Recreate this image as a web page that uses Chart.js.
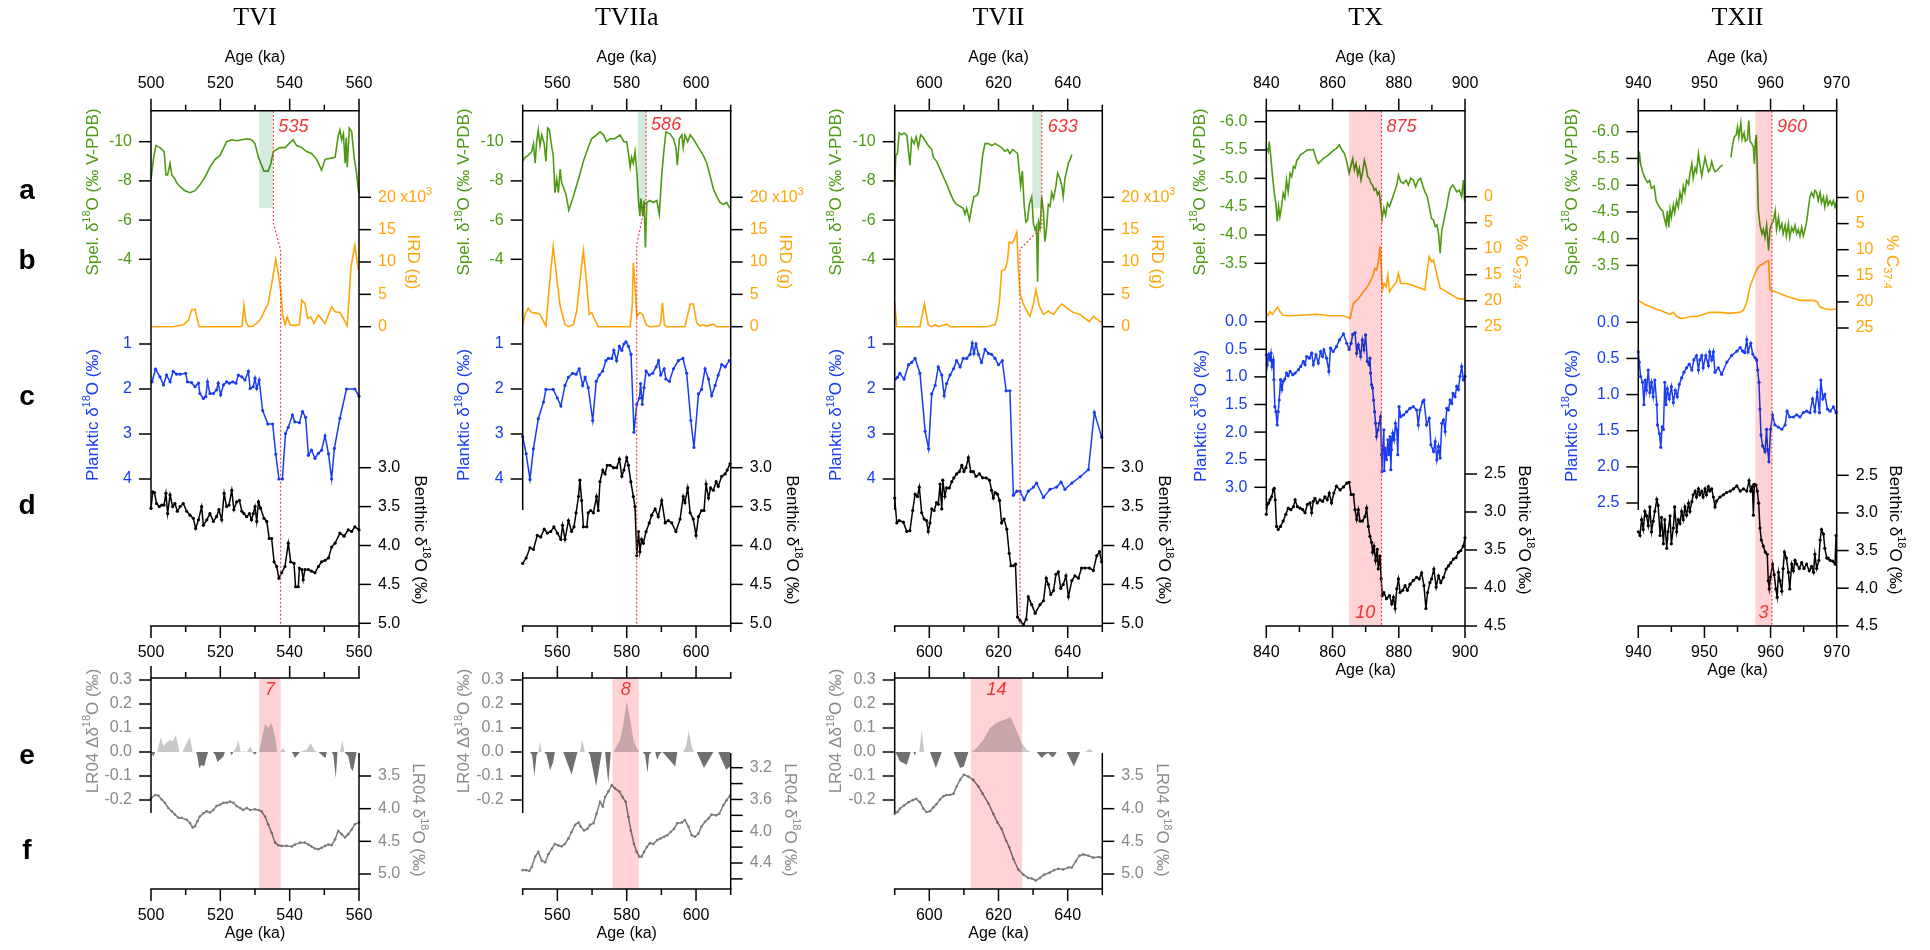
<!DOCTYPE html>
<html>
<head>
<meta charset="utf-8">
<script src="https://cdn.jsdelivr.net/npm/chart.js@4.4.1/dist/chart.umd.min.js"></script>
<style>
  body { margin: 0; background: #fff; }
  #wrap { position: relative; width: 1930px; height: 950px; overflow: hidden; background: #fff; }
  #wrap canvas { position: absolute; left: 0; top: 0; }
  .row { position: absolute; font: bold 28px "Liberation Sans", Arial, sans-serif; transform: translate(-50%, -50%); }
</style>
</head>
<body>
<div id="wrap"></div>
<script>
// ---------------- data (age ka, value) ----------------
const tviSpel = [[500,-8.1],[500.7,-9.1],[501.4,-9.8],[502.6,-9.7],[503.8,-9.5],[504.3,-8.3],[504.8,-8.3],[505.5,-8.9],[506,-8.3],[506.9,-8.1],[507.4,-7.9],[508.4,-7.7],[509.8,-7.5],[511.3,-7.4],[512.7,-7.5],[514.1,-7.8],[515.6,-8.2],[517,-8.7],[518.5,-9.1],[519.9,-9.3],[521,-9.7],[521.8,-10],[523.3,-10.1],[524.7,-10.05],[526.2,-10.1],[527.6,-10.15],[529,-10.1],[530,-9.9],[531,-9.2],[531.9,-8.8],[532.6,-8.5],[533.8,-8.5],[534.6,-8.9],[535.3,-9.5],[536.3,-9.6],[537.2,-9.7],[538.7,-9.7],[540.1,-9.95],[541,-10.1],[542,-9.8],[543.5,-9.7],[544.9,-9.5],[546.3,-9.4],[547.8,-9.1],[549.2,-8.55],[550.2,-9.1],[551.6,-9.15],[553.1,-9.2],[554,-10.3],[554.5,-10.6],[555,-10.1],[555.5,-10.4],[556,-8.9],[556.3,-10.2],[556.6,-8.7],[557.2,-10.7],[557.9,-10.5],[558.6,-9.2],[559.3,-8.4],[560,-7.3]];
const tviIrd = [[500,0],[506.4,0],[509.3,0.3],[510.8,1],[511.7,2.6],[512.7,2.7],[513.2,1.5],[513.9,0],[525.7,0],[526.3,0.1],[526.8,3.3],[527.4,0.8],[528.1,0],[529.5,0.1],[531.4,1],[533.8,3.6],[535,7.2],[536,10.4],[536.7,8.2],[537.5,5.2],[538,1.8],[538.7,0.3],[539.3,1.5],[540.1,0.3],[541,0.2],[542.8,0.3],[543.5,4.1],[544.4,3.6],[545.2,1.3],[546.1,1.5],[547,0.5],[548.3,1.8],[550.2,0.5],[552.1,3.1],[553.1,2.3],[554.5,2.2],[555.5,1.3],[556.6,0.1],[557.7,9.3],[558.8,12.6],[559.8,8.8]];
const tviPlank = [[500.3,1.84],[501.3,1.56],[502.6,1.73],[503.6,1.91],[504.5,1.69],[505.5,1.84],[506.4,1.61],[507.4,1.67],[508.4,1.67],[510,1.65],[510.5,1.84],[511.7,1.86],[512.7,1.95],[513.7,1.87],[514.1,2.1],[515.1,2.21],[515.8,2.17],[516.3,1.84],[517,2.1],[518,2.1],[518.9,2.02],[519.4,1.87],[520.1,2.13],[520.9,1.91],[521.8,1.84],[522.6,1.87],[523.6,1.84],[524.5,1.87],[525.2,1.69],[526.2,1.73],[527.1,1.8],[528.1,1.61],[528.6,1.99],[529.5,1.95],[530,1.76],[530.5,1.99],[531.2,1.8],[532.2,2.48],[533.7,2.78],[535.1,2.78],[536,3.45],[536.9,4.0],[537.9,4.0],[538.8,2.99],[539.6,2.85],[540.8,2.58],[541.5,2.73],[542.8,2.75],[543.7,2.5],[544.6,2.63],[545.4,3.47],[546.3,3.36],[547.3,3.54],[548.3,3.43],[549.2,3.36],[550.2,3.04],[551.2,3.44],[552.1,4.0],[552.9,3.32],[554.5,2.65],[556.4,2.0],[558.8,2.0],[560,2.16]];
const tviBenth = [[500,3.52],[500.5,3.31],[501,3.32],[501.6,3.46],[502.4,3.5],[503.1,3.48],[503.75,3.48],[504.3,3.33],[504.8,3.59],[505.5,3.35],[506.25,3.5],[506.9,3.46],[507.6,3.56],[508.4,3.5],[509.3,3.46],[510.3,3.56],[511.25,3.61],[512.2,3.65],[512.9,3.78],[513.7,3.67],[514.6,3.5],[515.1,3.74],[516.1,3.67],[517,3.59],[518,3.69],[518.9,3.63],[519.6,3.54],[520.4,3.67],[521.1,3.33],[521.8,3.5],[522.5,3.48],[523.3,3.29],[523.9,3.54],[524.7,3.44],[525.5,3.42],[526.2,3.56],[526.8,3.59],[527.6,3.63],[528.4,3.59],[529,3.67],[529.5,3.59],[530,3.5],[530.5,3.69],[531,3.44],[531.6,3.52],[532.6,3.65],[533.4,3.69],[534.1,3.91],[534.8,3.91],[535.5,4.21],[536.25,4.27],[536.9,4.42],[537.7,4.35],[538.65,4.27],[539.6,3.97],[540.3,4.21],[541.25,4.23],[541.7,4.53],[542.5,4.53],[542.8,4.29],[543.5,4.31],[543.9,4.44],[544.4,4.31],[545.4,4.31],[546.3,4.33],[547.3,4.35],[548.3,4.27],[549.2,4.21],[550.2,4.19],[551.2,4.16],[552.1,4.02],[553.1,3.97],[554.5,3.84],[555.7,3.88],[556.9,3.8],[557.9,3.82],[558.8,3.76],[560,3.8]];
const tviTie = [[535.3,0],[535.3,0.218],[537.4,0.27],[537.4,1]];

const tviiaSpel = [[550,-9.0],[550.7,-9.2],[551.6,-9.3],[552.6,-9.5],[553.1,-9.9],[553.6,-8.9],[554,-10.0],[554.5,-10.6],[555,-9.8],[555.5,-10.35],[556.2,-9.9],[556.7,-9.0],[557.2,-10.7],[557.7,-10.6],[558.4,-9.7],[558.8,-9.3],[559.3,-7.4],[559.8,-8.1],[560.3,-7.4],[560.8,-8.6],[561.25,-7.9],[561.9,-7.6],[562.5,-7.3],[563.3,-6.5],[564.6,-7.2],[566.1,-8.1],[567.5,-9.0],[568.9,-9.7],[569.9,-10.15],[571.3,-10.35],[572.3,-10.5],[573.3,-10.35],[574.2,-10.0],[575.2,-10.15],[576.6,-10.15],[578.1,-10.35],[579.2,-10.0],[580,-10.0],[580.5,-9.4],[581,-8.7],[581.4,-9.2],[581.9,-8.9],[582.4,-9.5],[582.9,-8.5],[583.4,-7.0],[583.8,-6.2],[584.1,-7.1],[584.6,-6.2],[585,-7.0],[585.4,-4.6],[585.8,-6.9],[586.7,-7.0],[587.7,-6.9],[588.7,-7.0],[589.4,-6.3],[590.1,-8.3],[590.6,-9.3],[591.3,-10.5],[592.5,-10.4],[593.5,-10.15],[594.2,-9.7],[594.6,-8.8],[595.2,-10.15],[595.9,-10.35],[596.3,-9.7],[596.8,-10.35],[597.6,-10.0],[598.3,-10.35],[599.2,-10.15],[600.7,-9.7],[602.1,-9.3],[603.1,-8.9],[604,-8.3],[605,-7.6],[606,-7.2],[606.9,-6.9],[607.9,-6.8],[608.8,-6.9],[609.8,-6.6]];
const tviiaIrd = [[550,0.3],[550.7,1.9],[551.6,2.9],[552.6,2.2],[554,2.1],[555,1.9],[556.7,0.1],[557.7,6.4],[558.8,12.4],[559.8,7.6],[560.8,3.2],[562.2,0.3],[563.2,0],[564.6,0.3],[565.6,2.5],[566.5,7.0],[567.5,11.8],[568.5,6.4],[569.2,1.9],[569.9,2.2],[570.6,1.3],[571.8,0],[581,0],[581.6,3.2],[581.9,9.9],[582.4,6.4],[582.9,1.6],[583.8,2.2],[584.6,1.9],[585.6,0.3],[586.7,0],[589.4,0.1],[589.8,0.6],[590.3,3.7],[590.9,0.3],[591.5,0],[596.8,0],[598.3,3.5],[599.2,3.5],[600.2,0.6],[601.2,0.1],[601.9,0.3],[603.1,0.1],[605,0.4],[606,0],[609.8,0]];
const tviiaPlank = [[550,3.06],[551,3.44],[552.1,4.01],[553.1,3.33],[554.5,2.66],[556,2.29],[556.7,2.01],[558.8,2.01],[560,2.2],[561,2.38],[562.2,1.92],[563.2,1.74],[564.4,1.65],[565.4,1.67],[566.3,1.55],[567.3,1.92],[568,1.74],[568.9,1.97],[570.2,2.7],[571.2,1.83],[572.1,1.69],[573.1,1.6],[574,1.37],[574.7,1.32],[575.7,1.32],[576.3,1.14],[577.1,1.37],[577.9,1.05],[578.6,1.14],[579.2,1.0],[579.8,0.95],[580.5,1.05],[581.25,1.23],[582.1,2.96],[582.9,2.34],[583.7,2.2],[584,1.88],[584.5,2.34],[585,1.97],[585.6,1.6],[586.5,1.69],[587.5,1.65],[588.5,1.51],[589.2,1.37],[589.8,1.69],[590.8,1.55],[591.3,1.78],[592.3,1.83],[593.5,1.55],[594.9,1.37],[596.2,1.32],[597.3,1.65],[598.5,2.7],[599.4,3.3],[600.7,2.11],[601.6,2.01],[602.6,1.55],[603.6,1.78],[604.5,2.15],[605.5,1.92],[606.4,1.69],[607.4,1.46],[608.4,1.51],[609.6,1.37]];
const tviiaBenth = [[550,4.23],[551,4.16],[552.1,4.03],[553.1,4.05],[554.2,3.87],[555.2,3.89],[556.2,3.79],[557.1,3.84],[558.1,3.82],[559,3.76],[560,3.84],[561,3.92],[561.5,3.74],[562.2,3.92],[563.2,3.68],[564.1,3.82],[564.8,3.76],[565.4,3.58],[566.1,3.37],[566.5,3.16],[567,3.42],[567.5,3.76],[568.5,3.76],[568.9,3.58],[569.6,3.55],[570.4,3.58],[571.3,3.37],[571.8,3.55],[572.3,3.18],[573.1,3.03],[573.75,3.08],[574.4,2.97],[575.2,2.97],[576.2,3.0],[577.1,3.0],[577.9,2.89],[578.6,3.11],[579.2,3.03],[580,2.87],[580.5,2.97],[581.2,3.18],[581.9,3.37],[582.4,3.5],[582.9,4.13],[583.4,3.82],[583.8,4.08],[584.3,3.92],[584.8,3.97],[585.6,3.82],[586.5,3.71],[587.2,3.61],[588.2,3.53],[589.1,3.63],[590.1,3.42],[591.1,3.71],[592,3.68],[593,3.71],[594.2,3.82],[595.4,3.66],[596.3,3.37],[596.8,3.45],[597.6,3.26],[598.3,3.58],[599.2,3.66],[600,3.87],[600.7,3.63],[601.6,3.55],[602.3,3.55],[602.9,3.21],[603.6,3.39],[604.2,3.26],[605,3.29],[605.8,3.18],[606.4,3.24],[607.4,3.11],[608.4,3.08],[609,3.03],[609.8,2.95]];
const tviiaTie = [[585.6,0],[585.6,0.173],[582.9,0.26],[582.9,1]];

const tviiSpel = [[590,-7.65],[590.3,-9.3],[590.8,-9.4],[591.3,-10.45],[592,-10.35],[592.7,-10.45],[593.5,-10.35],[594,-9.5],[594.4,-8.8],[594.9,-10.15],[595.6,-9.9],[596.2,-10.25],[596.8,-9.7],[597.5,-10.35],[598.1,-10.25],[598.8,-10.05],[599.7,-9.8],[600.7,-9.6],[601.2,-9.2],[602.1,-9.0],[603.1,-8.6],[604.1,-8.2],[605,-7.85],[606,-7.4],[607,-7.0],[607.9,-6.8],[608.9,-6.7],[609.8,-6.6],[610.3,-6.3],[610.8,-6.6],[611.6,-6.0],[612.3,-6.7],[612.9,-7.2],[613.7,-7.25],[614.2,-7.4],[614.7,-8.1],[615.4,-9.3],[616.1,-9.9],[617.1,-9.9],[618,-9.8],[619,-9.9],[620,-9.8],[620.9,-9.7],[621.9,-9.5],[622.6,-9.6],[623.3,-9.4],[624.1,-9.6],[624.8,-9.5],[625.5,-9.4],[626,-8.5],[626.4,-7.75],[626.9,-8.5],[627.4,-6.8],[627.9,-5.9],[628.4,-6.0],[628.9,-6.8],[629.6,-7.2],[630.1,-5.8],[630.6,-5.5],[631,-5.7],[631.3,-2.85],[631.6,-5.9],[632,-5.6],[632.5,-7.2],[633,-6.4],[633.4,-4.9],[633.9,-5.6],[634.4,-6.8],[634.9,-6.7],[635.4,-7.4],[635.9,-7.1],[636.6,-7.75],[637.1,-8.4],[637.8,-8.1],[638.3,-7.75],[638.7,-7.2],[639.2,-8.1],[639.7,-8.5],[640.2,-8.9],[640.7,-9.1],[641.2,-9.35]];
const tviiIrd = [[590,3.8],[590.6,0],[591.5,0],[597.3,0],[598.6,3.5],[599.7,0.3],[600.7,0],[601.7,0.3],[602.6,0],[605,0.4],[606,0],[616.6,0],[618,0.2],[619,0.3],[619.7,1.6],[620.3,4.1],[620.9,8.6],[621.9,8.9],[622.6,10.2],[623.1,13.1],[623.8,12.9],[624.5,13.4],[625.3,14.6],[625.7,9.6],[626.2,5.1],[627.2,3.5],[628.1,2.5],[629.1,1.6],[630.1,3.5],[630.8,5.7],[631.8,3.2],[633,1.9],[634.4,2.4],[635.9,1.9],[637.3,2.9],[638.3,3.5],[639.7,2.9],[641.6,2.2],[643.6,1.9],[645,1.3],[646.3,0.8],[647.4,1.6],[648.9,1.0],[649.8,0.6]];
const tviiPlank = [[590.2,1.78],[590.8,1.74],[591.5,1.65],[592.7,1.78],[594,1.46],[594.9,1.41],[595.9,1.32],[597.3,1.65],[598.8,2.94],[599.8,3.33],[600.7,2.11],[601.7,1.92],[602.6,1.51],[603.6,1.69],[604.3,2.15],[605,1.88],[606,1.69],[607,1.55],[607.9,1.37],[608.9,1.51],[609.8,1.32],[610.8,1.32],[611.8,1.23],[612.4,0.98],[612.9,1.21],[613.5,1.0],[614.2,1.23],[615.1,1.41],[616.1,1.12],[617.1,1.21],[618,1.23],[619,1.32],[620,1.46],[621.1,1.37],[622.2,2.04],[623.3,2.04],[624.3,4.36],[625.3,4.27],[626.2,4.27],[627.4,4.46],[628.6,4.27],[630.1,4.18],[631,4.09],[633,4.41],[634.9,4.23],[636.8,4.18],[638.1,4.07],[639.2,4.23],[641.2,4.09],[643.6,3.95],[646,3.79],[647.7,2.52],[649.8,3.07]];
const tviiBenth = [[590,3.39],[590.6,3.71],[591.3,3.68],[592.5,3.7],[593.5,3.82],[594.4,3.81],[595.2,3.55],[595.9,3.34],[596.6,3.37],[597.1,3.25],[597.8,3.58],[598.5,3.66],[599.2,3.68],[599.7,3.82],[600.2,3.71],[600.7,3.53],[601.4,3.55],[602.1,3.45],[602.6,3.47],[603.1,3.21],[603.6,3.53],[603.9,3.16],[604.5,3.37],[605,3.26],[605.8,3.26],[606.5,3.18],[607.1,3.13],[607.9,3.08],[608.7,3.05],[609.4,2.97],[610,3.05],[610.6,3.0],[611.3,2.87],[612,3.05],[612.7,3.05],[613.5,3.11],[614.5,3.08],[615.4,3.13],[616.4,3.13],[617.4,3.16],[618,3.29],[618.5,3.39],[619,3.32],[619.7,3.34],[620.3,3.42],[620.9,3.71],[621.6,3.66],[622.4,3.79],[623.1,4.1],[623.6,4.26],[624.3,4.26],[624.9,4.24],[625.5,4.92],[626.2,4.96],[627.2,5.02],[628,4.95],[628.6,4.66],[629.6,4.76],[630.6,4.87],[632,4.76],[633,4.71],[633.8,4.42],[634.4,4.5],[635.1,4.63],[635.9,4.58],[636.6,4.37],[637.3,4.34],[638,4.55],[638.7,4.5],[639.5,4.39],[640.2,4.66],[641.2,4.45],[642.1,4.39],[643.1,4.42],[644,4.29],[645,4.29],[646.3,4.29],[647.4,4.32],[648.4,4.13],[649.2,4.08],[649.8,4.21]];
const tviiTie = [[632.5,0],[632.5,0.226],[626.2,0.269],[626.2,1]];

const txSpel = [[840,-5.5],[840.1,-5.53],[840.6,-5.47],[840.9,-5.65],[841.3,-5.41],[841.9,-5.03],[842.4,-4.74],[842.9,-4.56],[843.3,-4.24],[843.7,-4.5],[844.1,-4.32],[844.6,-4.5],[845.1,-4.74],[845.6,-4.65],[846.1,-4.97],[846.6,-4.76],[847.2,-5.09],[847.7,-5.03],[848.2,-5.21],[848.7,-5.18],[849.2,-5.32],[849.7,-5.35],[850.2,-5.41],[851,-5.44],[851.7,-5.47],[852.4,-5.5],[853,-5.51],[853.7,-5.5],[854.2,-5.51],[854.7,-5.41],[855.2,-5.32],[855.7,-5.26],[857.2,-5.35],[858.7,-5.41],[860.2,-5.49],[861.2,-5.53],[862.1,-5.59],[862.8,-5.5],[863.6,-5.44],[864.3,-5.29],[865,-5.09],[865.5,-5.21],[866.1,-5.35],[866.6,-5.15],[867.1,-5.26],[867.6,-5.06],[868.1,-5.18],[868.6,-4.97],[869.1,-5.12],[869.6,-5.32],[870.1,-5.21],[870.6,-5.03],[871.1,-5.0],[871.6,-4.91],[872.1,-4.88],[872.6,-4.79],[873.1,-4.82],[873.6,-4.71],[874.1,-4.76],[874.5,-4.56],[875,-4.29],[875.5,-4.47],[876,-4.35],[876.6,-4.56],[877.2,-4.5],[877.9,-4.62],[878.6,-4.74],[879.4,-4.88],[879.9,-5.06],[880.6,-4.94],[881.4,-4.91],[882.2,-4.97],[882.9,-4.88],[883.6,-5.0],[884.4,-4.97],[885.1,-4.85],[885.9,-4.97],[886.6,-5.0],[887.2,-4.88],[887.9,-4.76],[888.6,-4.68],[889.2,-4.5],[889.9,-4.29],[890.5,-4.26],[891,-4.15],[891.5,-4.18],[892,-4.03],[892.5,-3.68],[893,-4.09],[893.5,-4.21],[894,-4.38],[894.5,-4.5],[895,-4.68],[895.5,-4.82],[896.3,-4.88],[897,-4.82],[897.5,-4.76],[898.3,-4.79],[899,-4.68],[899.5,-4.97],[899.9,-4.59]];
const txC374 = [[840,22.4],[840.6,22.8],[841.1,22.1],[841.9,22.6],[842.6,21.9],[843.4,21.2],[844.1,22.1],[845.1,22.8],[847.2,22.9],[850.2,22.8],[855.2,22.6],[859.2,22.9],[863.3,22.9],[865.3,23.4],[866.3,20.5],[867.8,19.6],[869.3,18.3],[870.8,17.0],[872.1,15.4],[872.8,13.8],[873.3,14.1],[873.8,12.8],[874.3,9.6],[874.6,12.2],[875.1,17.9],[875.6,16.7],[876.2,17.3],[876.7,15.1],[877.2,18.3],[878.2,17.3],[879.4,16.3],[879.9,14.7],[880.6,16.7],[882.4,16.7],[885.4,17.3],[887.9,17.9],[888.6,14.1],[889.2,11.5],[889.9,12.5],[890.5,12.2],[891.3,14.4],[892.5,17.6],[894.5,18.3],[896,18.9],[897.3,19.4],[898,19.6],[899,19.7],[900,19.7]];
const txPlank = [[840,0.6],[840.3,0.78],[840.7,0.6],[841.1,0.69],[841.4,0.57],[841.7,0.81],[842.1,0.69],[842.3,1.05],[842.6,1.54],[842.9,1.63],[843.3,1.87],[843.6,1.63],[843.9,1.42],[844.3,1.05],[844.7,1.23],[845.1,1.08],[845.6,1.04],[846.1,0.93],[846.6,0.98],[847.2,0.9],[848,0.96],[848.7,0.93],[849.7,0.87],[850.4,0.81],[851.2,0.72],[851.7,0.78],[852.2,0.63],[853,0.66],[853.7,0.57],[854.2,0.78],[855,0.6],[855.7,0.75],[856.4,0.54],[857,0.63],[857.4,0.51],[858.2,0.66],[858.9,0.9],[859.4,0.48],[860.2,0.54],[861.2,0.45],[862.1,0.33],[863.3,0.22],[864.3,0.39],[865,0.5],[865.6,0.39],[866.1,0.23],[866.8,0.2],[867.3,0.57],[867.8,0.42],[868.5,0.63],[869,0.33],[869.5,0.51],[870,0.24],[870.5,0.72],[871,0.78],[871.3,0.66],[871.5,0.93],[871.8,1.14],[872.1,1.2],[872.4,1.42],[872.7,1.63],[873,1.84],[873.3,2.08],[873.7,1.96],[874.1,1.84],[874.5,1.72],[874.8,2.41],[874.9,2.72],[875.1,2.32],[875.5,1.96],[875.6,2.7],[875.9,2.29],[876.3,2.5],[876.7,2.14],[877,2.41],[877.4,2.08],[877.6,2.68],[877.8,2.32],[878.2,2.02],[878.6,2.14],[879,1.84],[879.4,1.96],[879.7,2.41],[880.1,1.54],[880.6,1.72],[881.4,1.69],[882.4,1.63],[883.4,1.57],[884.4,1.54],[885.4,1.6],[885.9,1.87],[886.4,1.6],[887.2,1.45],[887.6,1.42],[888.4,1.87],[889.2,1.75],[889.7,2.23],[890.5,2.35],[891,2.17],[891.5,2.5],[892,2.26],[892.5,2.47],[893,1.84],[893.5,1.78],[894,1.99],[894.5,1.57],[895,1.6],[895.5,1.42],[896,1.48],[896.4,1.3],[897,1.36],[897.5,1.17],[898,1.23],[898.5,0.99],[899,0.81],[899.5,1.05],[900,0.99]];
const txBenth = [[840,3.03],[840.3,2.9],[840.7,2.88],[841.1,2.84],[841.6,2.8],[842.1,2.71],[842.4,2.69],[842.7,2.84],[843.1,3.19],[843.6,3.23],[844.3,3.19],[845.1,3.12],[845.9,3.03],[846.6,2.95],[847.4,2.97],[848.2,2.93],[848.7,2.84],[849.4,2.93],[850.2,2.95],[851,2.97],[851.7,3.01],[852.4,2.9],[853.2,2.88],[853.7,3.01],[854.2,2.86],[854.7,2.82],[855.4,2.88],[856.2,2.84],[857,2.86],[857.7,2.8],[858.4,2.84],[859,2.75],[859.7,2.88],[860.4,2.75],[861.2,2.66],[862.3,2.71],[863.3,2.67],[864.3,2.62],[865,2.61],[865.6,2.77],[866.3,2.77],[866.8,2.97],[867.3,3.1],[867.8,2.97],[868.3,3.12],[869,3.12],[869.8,3.06],[870.3,2.95],[870.8,3.19],[871.3,3.32],[871.8,3.4],[872.1,3.53],[872.5,3.45],[873,3.64],[873.5,3.49],[873.8,3.75],[874.3,3.58],[874.7,3.88],[875,4.1],[875.5,4.06],[876.3,4.14],[877.2,4.1],[877.9,4.21],[878.4,4.12],[878.9,4.27],[879.4,4.01],[879.9,3.88],[880.4,4.06],[881.2,4.03],[881.9,3.97],[882.6,4.03],[883.4,3.95],[884.4,3.9],[885.4,3.86],[886.2,3.88],[886.9,3.8],[887.6,3.97],[888.2,4.27],[888.7,4.06],[889.4,3.93],[889.9,3.88],[890.6,3.75],[891.3,3.99],[892,3.84],[892.7,3.93],[893.5,3.86],[894.3,3.75],[895,3.71],[895.7,3.67],[896.5,3.62],[897.3,3.6],[898,3.53],[898.7,3.51],[899.5,3.45],[900,3.34]];
const txTie = [[874.8,0],[874.8,1]];

const txiiSpel = [[940,-5.4],[940.15,-5.63],[940.35,-5.4],[940.65,-5.25],[941,-5.13],[941.4,-5.05],[941.7,-5.09],[942,-4.94],[942.4,-4.98],[942.7,-4.71],[943,-4.63],[943.4,-4.55],[943.7,-4.52],[943.9,-4.4],[944.2,-4.25],[944.4,-4.52],[944.6,-4.21],[944.8,-4.55],[945,-4.4],[945.3,-4.63],[945.5,-4.48],[945.8,-4.71],[946.05,-4.59],[946.3,-4.86],[946.55,-4.71],[946.8,-4.98],[947.05,-4.86],[947.3,-5.09],[947.6,-5.02],[947.8,-5.21],[948.1,-5.4],[948.3,-5.13],[948.6,-5.32],[948.8,-5.25],[949.1,-5.59],[949.3,-5.4],[949.6,-5.17],[949.8,-5.32],[950.1,-5.52],[950.3,-5.4],[950.6,-5.25],[950.8,-5.28],[951.1,-5.44],[951.35,-5.32],[951.6,-5.25],[951.95,-5.28],[952.35,-5.34],[952.75,-5.38],[953.4,null],[954,-5.52],[954.3,-5.78],[954.5,-5.9],[954.8,-5.94],[955,-6.09],[955.2,-5.9],[955.5,-6.17],[955.7,-5.86],[956,-5.98],[956.2,-5.82],[956.5,-5.86],[956.7,-6.21],[956.9,-5.82],[957.15,-5.78],[957.4,-5.71],[957.55,-5.4],[957.7,-5.82],[957.85,-5.94],[958,-5.25],[958.15,-4.55],[958.4,-4.25],[958.7,-4.09],[958.9,-4.17],[959.15,-4.02],[959.4,-4.25],[959.7,-3.78],[959.9,-4.17],[960.2,-4.28],[960.4,-4.32],[960.7,-4.52],[960.9,-4.17],[961.2,-4.4],[961.4,-4.17],[961.7,-4.28],[961.9,-4.09],[962.2,-4.25],[962.4,-4.05],[962.7,-4.28],[962.9,-4.02],[963.2,-4.21],[963.45,-4.13],[963.7,-4.25],[963.95,-4.09],[964.2,-4.17],[964.45,-4.05],[964.7,-4.21],[964.95,-4.05],[965.2,-4.17],[965.45,-4.32],[965.7,-4.55],[965.95,-4.78],[966.2,-4.86],[966.5,-4.78],[966.7,-4.9],[966.98,-4.86],[967.2,-4.71],[967.5,-4.86],[967.7,-4.67],[968,-4.78],[968.2,-4.59],[968.5,-4.78],[968.7,-4.63],[969,-4.71],[969.25,-4.63],[969.5,-4.71],[969.75,-4.59],[970,-4.71]];
const txiiC374 = [[940,19.7],[940.5,20.1],[941,20.5],[941.8,20.9],[942.5,21.3],[943.3,21.6],[944,22.0],[944.8,22.4],[945.3,22.0],[945.8,22.8],[946.55,23.2],[947.3,23.0],[948.1,22.8],[948.8,22.8],[949.8,22.4],[950.8,22.0],[952.35,22.0],[953.9,22.2],[955.4,22.0],[955.9,21.6],[956.4,20.1],[956.9,17.0],[957.4,15.4],[957.9,13.8],[958.4,13.0],[958.9,12.7],[959.3,12.3],[959.7,12.1],[959.9,17.6],[960.4,17.9],[961.4,18.4],[962.4,18.9],[963.45,19.3],[964.45,19.7],[965.5,19.7],[966.5,19.7],[967,19.9],[967.5,21.0],[968.2,21.3],[969,21.5],[970,21.3]];
const txiiPlank = [[940,0.41],[940.15,0.55],[940.35,0.75],[940.65,0.83],[940.85,1.14],[941.05,0.8],[941.25,0.94],[941.5,0.66],[941.75,0.97],[942,0.83],[942.25,1.03],[942.5,0.8],[942.8,1.14],[942.9,1.42],[943.2,1.54],[943.4,1.73],[943.6,1.45],[943.8,1.48],[944,0.83],[944.2,1.14],[944.4,0.92],[944.7,1.06],[945,0.89],[945.3,1.11],[945.6,0.94],[945.9,1.03],[946.2,0.86],[946.55,0.77],[946.9,0.69],[947.3,0.63],[947.7,0.58],[948.1,0.66],[948.4,0.52],[948.8,0.46],[949.1,0.66],[949.3,0.52],[949.6,0.46],[949.8,0.63],[950.2,0.46],[950.6,0.6],[950.8,0.41],[951.1,0.52],[951.35,0.41],[951.6,0.69],[952.1,0.63],[952.6,0.72],[953.4,0.55],[954.1,0.46],[954.9,0.4],[955.4,0.35],[955.8,0.4],[956.1,0.42],[956.4,0.24],[956.6,0.41],[957,0.29],[957.3,0.44],[957.65,0.49],[957.9,0.52],[958.05,0.66],[958.25,0.83],[958.4,1.2],[958.55,1.56],[958.8,1.71],[959.15,1.79],[959.4,1.48],[959.55,1.76],[959.75,1.93],[960,1.48],[960.3,1.28],[960.65,1.42],[961.15,1.45],[961.7,1.48],[962.2,1.42],[962.5,1.23],[962.9,1.31],[963.45,1.31],[963.95,1.28],[964.45,1.31],[964.95,1.25],[965.45,1.23],[965.95,1.25],[966.35,1.06],[966.7,1.23],[967.05,0.97],[967.4,1.25],[967.6,0.8],[967.9,1.06],[968.2,1.0],[968.6,1.2],[969,1.23],[969.5,1.17],[969.9,1.25]];
const txiiBenth = [[940,3.25],[940.25,3.3],[940.5,3.09],[940.75,3.22],[941,2.98],[941.25,3.04],[941.5,3.17],[941.75,2.92],[942,3.25],[942.25,3.11],[942.5,2.98],[942.8,2.82],[943,2.9],[943.3,3.3],[943.5,3.06],[943.8,3.41],[944,3.09],[944.3,3.47],[944.5,3.25],[944.8,3.04],[945,3.41],[945.3,3.2],[945.5,2.92],[945.8,3.25],[946.05,3.09],[946.3,3.14],[946.55,2.98],[946.8,3.09],[947.05,2.92],[947.3,3.03],[947.6,2.87],[947.8,2.98],[948.1,2.85],[948.3,2.76],[948.6,2.71],[948.8,2.79],[949.1,2.68],[949.3,2.76],[949.6,2.71],[949.8,2.79],[950.1,2.68],[950.3,2.76],[950.6,2.65],[950.8,2.71],[951.1,2.68],[951.35,2.79],[951.6,2.92],[951.85,2.84],[952.35,2.79],[952.85,2.76],[953.35,2.73],[953.9,2.71],[954.4,2.68],[954.9,2.64],[955.4,2.71],[955.9,2.68],[956.4,2.71],[956.75,2.57],[957,2.71],[957.25,2.65],[957.4,3.03],[957.55,2.62],[957.8,2.63],[958,2.71],[958.2,2.87],[958.4,3.2],[958.6,3.36],[958.9,3.44],[959.2,3.52],[959.5,3.55],[959.65,3.9],[959.8,4.01],[960,3.85],[960.3,3.68],[960.55,3.82],[960.8,4.01],[961,4.12],[961.2,3.79],[961.4,3.9],[961.7,4.04],[961.9,3.74],[962.1,3.52],[962.4,3.6],[962.7,3.79],[962.9,4.01],[963.2,3.68],[963.45,3.77],[963.7,3.63],[963.95,3.68],[964.35,3.74],[964.7,3.66],[965.05,3.74],[965.45,3.68],[965.85,3.77],[966.2,3.71],[966.5,3.79],[966.7,3.55],[966.98,3.74],[967.3,3.63],[967.5,3.36],[967.7,3.22],[968,3.28],[968.2,3.47],[968.5,3.6],[968.7,3.6],[969,3.63],[969.4,3.64],[969.75,3.68],[969.9,3.3]];
const txiiTie = [[960.2,0],[960.2,1]];

// LR04 panels (e: anomaly, f: stack)
const tviDelta = [[500,0],[500.7,-0.02],[501.2,0],[501.8,0],[502.8,0.06],[503.6,0.024],[504.5,0.04],[505.5,0.05],[506.25,0.045],[507.2,0.07],[508.2,0],[509.1,0],[510.3,0.038],[511.25,0.063],[512,0],[513,0],[513.4,-0.02],[513.9,-0.067],[514.6,-0.053],[515.3,-0.06],[516.1,-0.018],[516.5,0],[517.8,0],[518.5,-0.011],[519.2,-0.042],[519.9,-0.032],[520.9,-0.018],[521.3,0],[522.8,0],[523.3,-0.015],[523.75,0],[524.7,0.024],[525.2,0.049],[525.9,0],[526.8,0.003],[527.6,0],[528.4,0.017],[528.8,0.021],[529.3,0],[530,-0.011],[530.5,0],[531.2,0],[531.9,0.051],[532.9,0.118],[533.8,0.1],[534.8,0.121],[535.8,0.065],[536.4,0],[537.2,0],[538.2,0.017],[538.8,0],[540.6,0],[541.1,-0.011],[541.5,-0.025],[542.3,-0.011],[543,0],[544.9,0.01],[546.1,0.038],[547.3,0.003],[548.3,0],[549.7,-0.018],[550.4,-0.025],[550.7,0],[552.1,0],[552.6,-0.011],[553.3,-0.108],[553.8,0],[554.5,0],[555.2,0.049],[555.8,0],[556.9,-0.018],[557.6,-0.067],[558.2,-0.08],[558.8,-0.04],[559.3,0],[560,0]];
const tviLr04 = [[500,3.84],[501.2,3.79],[502.1,3.8],[503.1,3.86],[504,3.91],[505,3.99],[506,4.04],[506.9,4.09],[507.9,4.14],[508.8,4.14],[510.3,4.17],[511.25,4.22],[512,4.29],[512.7,4.27],[513.4,4.19],[514.1,4.12],[515.1,4.07],[516.1,4.04],[517,4.06],[518,4.02],[518.9,3.96],[519.9,3.94],[520.9,3.91],[521.8,3.91],[522.8,3.89],[523.75,3.91],[524.7,3.96],[525.7,3.99],[526.6,4.02],[527.6,3.99],[528.6,4.02],[530,4.01],[531,4.02],[531.9,4.04],[532.9,4.12],[533.8,4.24],[534.8,4.37],[535.8,4.52],[536.7,4.56],[537.7,4.57],[539.1,4.57],[540.6,4.58],[541.5,4.55],[543,4.52],[544.4,4.52],[545.4,4.55],[546.3,4.58],[547.3,4.61],[548.3,4.62],[549.2,4.6],[550.2,4.57],[551.2,4.55],[552.1,4.56],[553.1,4.47],[554,4.34],[555,4.39],[555.96,4.44],[556.9,4.39],[557.9,4.32],[558.8,4.24],[560,4.21]];
const tviiaDelta = [[550,0],[552.1,0],[552.7,-0.011],[553.4,-0.1],[554,-0.011],[554.5,0],[555,0.044],[555.5,0],[556.2,0],[556.9,-0.011],[557.9,-0.076],[558.7,-0.046],[559.3,0],[561.7,0],[564.1,-0.094],[565.8,0],[566.5,0],[567.2,0.049],[567.9,0],[568.9,0],[569.4,-0.011],[571.2,-0.143],[572.8,0],[573.75,0],[574.7,-0.13],[575.4,0],[576.2,0],[577.1,0.024],[578.1,0.05],[579,0.114],[580,0.21],[581,0.135],[581.9,0.052],[582.9,0.017],[583.6,0],[584.6,0],[585.3,-0.011],[586,-0.088],[586.5,-0.011],[587.2,0],[588.2,0],[588.8,-0.032],[589.4,-0.011],[590.1,0],[590.6,-0.004],[594,-0.06],[594.6,0],[596.3,0],[597.1,0.024],[597.9,0.09],[598.75,0.024],[599.4,0],[600.2,0],[602.3,-0.067],[605,0],[606.4,0],[608.7,-0.074],[609.8,-0.06]];
const tviiaLr04 = [[550,4.49],[551,4.49],[551.9,4.5],[552.6,4.45],[553.6,4.32],[554.5,4.26],[555.5,4.37],[556.5,4.39],[557.4,4.29],[558.4,4.22],[559.3,4.16],[560.3,4.18],[561.25,4.19],[562.2,4.16],[563.2,4.09],[564.1,4.01],[565.1,3.92],[566.1,3.89],[566.7,3.94],[567.7,3.99],[568.65,3.97],[569.4,3.92],[570.4,3.9],[571.3,3.78],[572.3,3.63],[573.1,3.69],[573.75,3.57],[574.7,3.5],[575.7,3.42],[576.6,3.46],[577.9,3.5],[578.8,3.57],[579.7,3.63],[580.5,3.82],[581.2,3.99],[582.1,4.16],[582.9,4.26],[583.65,4.32],[584.3,4.32],[585,4.26],[585.8,4.2],[586.7,4.15],[587.7,4.16],[588.8,4.11],[589.8,4.09],[590.8,4.07],[591.7,4.05],[592.7,4.01],[593.65,3.97],[594.6,3.9],[595.9,3.89],[596.8,3.86],[597.8,3.94],[598.75,4.05],[599.7,4.07],[600.7,4.03],[601.6,3.94],[602.6,3.88],[603.6,3.84],[604.5,3.79],[605.8,3.8],[606.7,3.78],[607.9,3.67],[608.8,3.61],[609.8,3.55]];
const tviiDelta = [[590,0],[590.6,-0.011],[591.5,-0.039],[593.5,-0.053],[594.6,0],[595.4,0],[595.8,-0.015],[596.2,0],[597.1,0],[597.8,0.09],[598.5,0],[600.2,0],[601.9,-0.067],[603.6,0],[607,0],[608.9,-0.067],[610,-0.06],[611.3,0],[612.3,0],[613.7,0.017],[615.6,0.05],[617.5,0.1],[619,0.118],[620.4,0.128],[621.9,0.135],[623.5,0.146],[625.3,0.086],[626.7,0.038],[628.1,0.01],[629.3,0],[631,0],[632.5,-0.025],[633.4,-0.011],[634.4,-0.004],[635.4,-0.021],[636.1,-0.018],[636.8,0],[639.7,0],[641.8,-0.06],[643.6,0],[645,0],[646.3,0.012],[647.4,0],[649.8,0]];
const tviiLr04 = [[590,4.08],[590.8,4.05],[591.5,4.0],[592.7,3.95],[594,3.9],[595.2,3.87],[596.2,3.85],[597.3,3.9],[598.3,4.0],[599.2,4.05],[600.2,4.04],[601.2,3.98],[602.1,3.93],[603.1,3.86],[604.1,3.81],[605,3.79],[606,3.79],[607,3.77],[607.9,3.66],[608.9,3.56],[610,3.48],[611.3,3.51],[612.7,3.56],[614.2,3.66],[615.4,3.77],[617.1,3.92],[618.5,4.08],[619.7,4.21],[620.9,4.31],[622.2,4.49],[623.1,4.59],[624.3,4.77],[625.7,4.93],[627.2,5.01],[628.6,5.06],[629.6,5.07],[630.8,5.1],[632,5.06],[633.2,5.01],[634.7,4.98],[636.1,4.94],[637.3,4.92],[638.7,4.93],[640.2,4.9],[641.2,4.9],[642.4,4.8],[643.4,4.72],[644.5,4.7],[646,4.72],[647.4,4.75],[648.9,4.74],[649.8,4.75]];

// ---------------- tick labels ----------------
const spelTicksA = [-10, -8, -6, -4];
const irdTicks = [20, 15, 10, 5, 0];
const plankTicksA = [1, 2, 3, 4];
const benthTicksA = [3.0, 3.5, 4.0, 4.5, 5.0];
const spelTicksB = [-6.0, -5.5, -5.0, -4.5, -4.0, -3.5];
const c374Ticks = [0, 5, 10, 15, 20, 25];
const plankTicksTX = [0.0, 0.5, 1.0, 1.5, 2.0, 2.5, 3.0];
const plankTicksTXII = [0.0, 0.5, 1.0, 1.5, 2.0, 2.5];
const benthTicksB = [2.5, 3.0, 3.5, 4.0, 4.5];
const deltaTicks = [0.3, 0.2, 0.1, 0.0, -0.1, -0.2];
const lr04TicksA = [3.5, 4.0, 4.5, 5.0];
const lr04TicksB = [3.2, 3.6, 4.0, 4.4];
const lr04MinorB = [3.4, 3.8, 4.2, 4.6];
const ageTVI = [500, 520, 540, 560], ageTVIMinor = [510, 530, 550];
const ageTVIIa = [560, 580, 600], ageTVIIaMinor = [550, 570, 590, 610];
const ageTVII = [600, 620, 640], ageTVIIMinor = [590, 610, 630, 650];
const ageTX = [840, 860, 880, 900], ageTXMinor = [850, 870, 890];
const ageTXII = [940, 950, 960, 970], ageTXIIMinor = [945, 955, 965];
const rowLetters = ['a', 'b', 'c', 'd', 'e', 'f'];

// ---------------- styles ----------------
const SANS = '"Liberation Sans", Arial, Helvetica, sans-serif';
const SERIF = '"Liberation Serif", "Times New Roman", serif';
const GREEN = '#4f9a14', ORANGE = '#ffa50a', BLUE = '#1a3cf0', BLACK = '#000000';
const GREY = '#8a8a8a', GREYLINE = '#7a7a7a', RED = '#ee3535';
const MINT = '#d3ebdd', PINK = '#ffd2d6';
const TOP = 110.7, BOT = 626, EFT = 678, EFB = 889;

Chart.defaults.font.family = SANS;
const wrap = document.getElementById('wrap');
const pts = a => a.map(([x, y]) => ({x, y}));

function fit(v1, p1, v2, p2, top, bottom) {
  const k = (p2 - p1) / (v2 - v1);
  const vt = v1 + (top - p1) / k, vb = v1 + (bottom - p1) / k;
  return k > 0 ? {min: vt, max: vb, reverse: true} : {min: vb, max: vt, reverse: false};
}

function parseRich(s) {
  return s.split(/(\^\{[^}]*\}|_\{[^}]*\})/).filter(Boolean).map(p =>
    p.startsWith('^{') ? {t: p.slice(2, -1), sup: true} :
    p.startsWith('_{') ? {t: p.slice(2, -1), sub: true} : {t: p});
}
function drawRich(ctx, str, x, y, o) {
  const size = o.size || 16, segs = parseRich(str);
  ctx.save();
  ctx.translate(x, y);
  if (o.rot) ctx.rotate(o.rot);
  ctx.fillStyle = o.color || '#000';
  ctx.textBaseline = 'middle';
  ctx.textAlign = 'left';
  const st = o.italic ? 'italic ' : '';
  const fonts = segs.map(s => st + ((s.sup || s.sub) ? Math.round(size * 0.66) : size) + 'px ' + (o.family || SANS));
  const w = segs.map((s, i) => { ctx.font = fonts[i]; return ctx.measureText(s.t).width; });
  const total = w.reduce((a, b) => a + b, 0);
  let cx = o.align === 'left' ? 0 : o.align === 'right' ? -total : -total / 2;
  segs.forEach((s, i) => {
    ctx.font = fonts[i];
    ctx.fillText(s.t, cx, s.sup ? -size * 0.36 : s.sub ? size * 0.32 : 0);
    cx += w[i];
  });
  ctx.restore();
}

const panelCfg = new Map();
const framePlugin = {
  id: 'frame',
  afterDatasetsDraw(chart) {
    const c = panelCfg.get(chart.canvas), {ctx, chartArea: ca, scales} = chart;
    (c.bands || []).forEach(b => {
      const x1 = scales.x.getPixelForValue(b.from), x2 = scales.x.getPixelForValue(b.to);
      const y2 = scales.f.getPixelForValue(b.depth);
      ctx.save();
      ctx.globalCompositeOperation = 'multiply';
      ctx.fillStyle = b.color;
      ctx.fillRect(x1, ca.top, x2 - x1, y2 - ca.top);
      ctx.restore();
    });
  },
  afterDraw(chart) {
    const c = panelCfg.get(chart.canvas), {ctx, chartArea: ca, scales} = chart, xs = scales.x;
    const mid = (ca.left + ca.right) / 2;
    ctx.save();
    ctx.strokeStyle = '#000';
    ctx.lineWidth = 1.5;
    const seg = (x1, y1, x2, y2) => { ctx.beginPath(); ctx.moveTo(x1, y1); ctx.lineTo(x2, y2); ctx.stroke(); };
    seg(ca.left - 0.75, ca.top, ca.right + 0.75, ca.top);
    seg(ca.left - 0.75, ca.bottom, ca.right + 0.75, ca.bottom);
    seg(ca.left, c.leftSpan[0], ca.left, c.leftSpan[1]);
    seg(ca.right, c.rightSpan[0], ca.right, c.rightSpan[1]);
    const xt = (vals, len) => vals.forEach(v => {
      const px = xs.getPixelForValue(v);
      seg(px, ca.top, px, ca.top - len);
      seg(px, ca.bottom, px, ca.bottom + len);
    });
    xt(c.xMajor, 12);
    xt(c.xMinor, 6);
    c.xMajor.forEach(v => {
      const px = xs.getPixelForValue(v);
      if (c.topLabels) drawRich(ctx, String(v), px, ca.top - 27, {size: 16});
      if (c.bottomLabels) drawRich(ctx, String(v), px, ca.bottom + 26.5, {size: 16});
    });
    if (c.title) drawRich(ctx, c.title, mid, 18, {size: 26, family: SERIF});
    if (c.topTitle) drawRich(ctx, 'Age (ka)', mid, ca.top - 53, {size: 16});
    if (c.bottomTitle) drawRich(ctx, 'Age (ka)', mid, ca.bottom + 44.5, {size: 16});

    c.axes.forEach(a => {
      const s = scales[a.id], left = a.side === 'left', x0 = left ? ca.left : ca.right, dir = left ? -1 : 1;
      (a.minor || []).forEach(v => { const py = s.getPixelForValue(v); seg(x0, py, x0 + dir * 12, py); });
      a.ticks.forEach((v, i) => {
        const py = s.getPixelForValue(v);
        seg(x0, py, x0 + dir * 12, py);
        let lab = v.toFixed(a.dec);
        if (i === 0 && a.suffix) lab += a.suffix;
        drawRich(ctx, lab, x0 + dir * 19, py, {size: 16, color: a.color, align: left ? 'right' : 'left'});
      });
      drawRich(ctx, a.title, a.tx, a.ty, {size: 17, color: a.color, rot: left ? -Math.PI / 2 : Math.PI / 2});
    });
    (c.notes || []).forEach(n => {
      const px = xs.getPixelForValue(n.at) + (n.dx || 0);
      drawRich(ctx, n.text, px, n.y, {size: 18, color: RED, italic: true, align: n.align || 'center'});
    });
    ctx.restore();
  }
};

const line = (d, id, c) => ({data: pts(d), yAxisID: id, borderColor: c, borderWidth: 1.6, pointRadius: 0, fill: false, clip: 6});
const dots = (d, id, c, r) => ({data: pts(d), yAxisID: id, borderColor: c, backgroundColor: c, borderWidth: 1.5,
  pointRadius: r || 1.6, pointBorderWidth: 0, pointBackgroundColor: c, fill: false, clip: 6});
const tie = d => ({data: pts(d), yAxisID: 'f', borderColor: RED, borderWidth: 1.1, borderDash: [2, 2], pointRadius: 0, fill: false});
const delta = d => ({data: pts(d), yAxisID: 'e', borderWidth: 0, borderColor: 'rgba(0,0,0,0)', pointRadius: 0,
  fill: {target: {value: 0}, above: '#c8c8c8', below: '#707070'}});

function makePanel(c) {
  const cv = document.createElement('canvas');
  cv.width = 1930; cv.height = 950;
  wrap.appendChild(cv);
  panelCfg.set(cv, c);
  const scales = {
    x: {type: 'linear', axis: 'x', position: 'bottom', display: false, bounds: 'data', min: c.x[0], max: c.x[1]},
    f: {type: 'linear', axis: 'y', position: 'left', display: false, bounds: 'data', min: 0, max: 1, reverse: true}
  };
  c.axes.forEach(a => {
    scales[a.id] = Object.assign({type: 'linear', axis: 'y', position: a.side, display: false, bounds: 'data'},
      fit(a.ticks[0], a.p[0], a.ticks[a.ticks.length - 1], a.p[1], c.top, c.bottom));
  });
  new Chart(cv, {
    type: 'line',
    data: {datasets: c.datasets},
    options: {
      responsive: false, animation: false, events: [],
      layout: {padding: {left: c.L, right: 1930 - c.R, top: c.top, bottom: 950 - c.bottom}},
      scales,
      plugins: {legend: {display: false}, tooltip: {enabled: false}}
    },
    plugins: [framePlugin]
  });
}

function topAxesA(L, R) {
  return [
    {id: 'g', side: 'left', ticks: spelTicksA, p: [141.7, 259.3], dec: 0, color: GREEN, title: 'Spel. δ^{18}O (‰ V-PDB)', tx: L - 58, ty: 192},
    {id: 'o', side: 'right', ticks: irdTicks, p: [197.3, 326.7], dec: 0, color: ORANGE, suffix: ' x10^{3}', title: 'IRD (g)', tx: R + 54, ty: 262},
    {id: 'b', side: 'left', ticks: plankTicksA, p: [344, 479], dec: 0, color: BLUE, title: 'Planktic δ^{18}O (‰)', tx: L - 58, ty: 415},
    {id: 'k', side: 'right', ticks: benthTicksA, p: [467.7, 623.3], dec: 1, color: BLACK, title: 'Benthic δ^{18}O (‰)', tx: R + 61, ty: 540}
  ];
}
function efAxes(L, R, rTicks, rP, rMinor) {
  return [
    {id: 'e', side: 'left', ticks: deltaTicks, p: [680, 800], dec: 1, color: GREY, title: 'LR04 Δδ^{18}O (‰)', tx: L - 58, ty: 731},
    {id: 'lr', side: 'right', ticks: rTicks, p: rP, minor: rMinor, dec: 1, color: GREY, title: 'LR04 δ^{18}O (‰)', tx: R + 59, ty: 820}
  ];
}
const topCommon = {top: TOP, bottom: BOT, topLabels: true, topTitle: true, bottomLabels: true, leftSpan: [TOP, 510], rightSpan: [TOP, BOT]};
const efCommon = {top: EFT, bottom: EFB, topLabels: false, topTitle: false, bottomLabels: true, bottomTitle: true, leftSpan: [EFT, 813], rightSpan: [753, EFB]};

// ---- TVI ----
makePanel(Object.assign({}, topCommon, {
  L: 151, R: 359, x: [500, 560], xMajor: ageTVI, xMinor: ageTVIMinor, title: 'TVI',
  axes: topAxesA(151, 359),
  datasets: [tie(tviTie), line(tviSpel, 'g', GREEN), line(tviIrd, 'o', ORANGE), dots(tviPlank, 'b', BLUE), dots(tviBenth, 'k', BLACK)],
  bands: [{from: 531.2, to: 535.1, depth: 0.189, color: MINT}],
  notes: [{text: '535', at: 535.3, dx: 5, y: 127, align: 'left'}]
}));
makePanel(Object.assign({}, efCommon, {
  L: 151, R: 359, x: [500, 560], xMajor: ageTVI, xMinor: ageTVIMinor,
  axes: efAxes(151, 359, lr04TicksA, [776, 874]),
  datasets: [dots(tviLr04, 'lr', GREYLINE, 1.3), delta(tviDelta)],
  bands: [{from: 531.2, to: 537.4, depth: 1, color: PINK}],
  notes: [{text: '7', at: 534.3, y: 690}]
}));

// ---- TVIIa ----
makePanel(Object.assign({}, topCommon, {
  L: 522.7, R: 730.7, x: [550, 610], xMajor: ageTVIIa, xMinor: ageTVIIaMinor, title: 'TVIIa',
  axes: topAxesA(522.7, 730.7),
  datasets: [tie(tviiaTie), line(tviiaSpel, 'g', GREEN), line(tviiaIrd, 'o', ORANGE), dots(tviiaPlank, 'b', BLUE), dots(tviiaBenth, 'k', BLACK)],
  bands: [{from: 583.2, to: 585.6, depth: 0.189, color: MINT}],
  notes: [{text: '586', at: 585.6, dx: 5, y: 125, align: 'left'}]
}));
makePanel(Object.assign({}, efCommon, {
  L: 522.7, R: 730.7, x: [550, 610], xMajor: ageTVIIa, xMinor: ageTVIIaMinor,
  axes: efAxes(522.7, 730.7, lr04TicksB, [767.7, 863], lr04MinorB),
  datasets: [dots(tviiaLr04, 'lr', GREYLINE, 1.3), delta(tviiaDelta)],
  bands: [{from: 575.9, to: 583.5, depth: 1, color: PINK}],
  notes: [{text: '8', at: 579.7, y: 690}]
}));

// ---- TVII ----
makePanel(Object.assign({}, topCommon, {
  L: 894.7, R: 1102.3, x: [590, 650], xMajor: ageTVII, xMinor: ageTVIIMinor, title: 'TVII',
  axes: topAxesA(894.7, 1102.3),
  datasets: [tie(tviiTie), line(tviiSpel, 'g', GREEN), line(tviiIrd, 'o', ORANGE), dots(tviiPlank, 'b', BLUE), dots(tviiBenth, 'k', BLACK)],
  bands: [{from: 629.8, to: 632.4, depth: 0.189, color: MINT}],
  notes: [{text: '633', at: 632.5, dx: 6, y: 127, align: 'left'}]
}));
makePanel(Object.assign({}, efCommon, {
  L: 894.7, R: 1102.3, x: [590, 650], xMajor: ageTVII, xMinor: ageTVIIMinor,
  axes: efAxes(894.7, 1102.3, lr04TicksA, [776, 874]),
  datasets: [dots(tviiLr04, 'lr', GREYLINE, 1.3), delta(tviiDelta)],
  bands: [{from: 612.0, to: 626.8, depth: 1, color: PINK}],
  notes: [{text: '14', at: 619.4, y: 690}]
}));

// ---- TX ----
makePanel(Object.assign({}, topCommon, {
  L: 1266.3, R: 1465, x: [840, 900], xMajor: ageTX, xMinor: ageTXMinor, title: 'TX', bottomTitle: true,
  axes: [
    {id: 'g', side: 'left', ticks: spelTicksB, p: [121.7, 263.3], dec: 1, color: GREEN, title: 'Spel. δ^{18}O (‰ V-PDB)', tx: 1200, ty: 192},
    {id: 'o', side: 'right', ticks: c374Ticks, p: [196.7, 326.7], dec: 0, color: ORANGE, title: '% C_{37:4}', tx: 1521, ty: 262},
    {id: 'b', side: 'left', ticks: plankTicksTX, p: [321.7, 487.3], dec: 1, color: BLUE, title: 'Planktic δ^{18}O (‰)', tx: 1201, ty: 416},
    {id: 'k', side: 'right', ticks: benthTicksB, p: [474, 626], dec: 1, color: BLACK, title: 'Benthic δ^{18}O (‰)', tx: 1524, ty: 530}
  ],
  datasets: [tie(txTie), line(txSpel, 'g', GREEN), line(txC374, 'o', ORANGE), dots(txPlank, 'b', BLUE), dots(txBenth, 'k', BLACK)],
  bands: [{from: 865, to: 874.8, depth: 1, color: PINK}],
  notes: [{text: '875', at: 874.8, dx: 5, y: 127, align: 'left'}, {text: '10', at: 869.9, y: 613}]
}));

// ---- TXII ----
makePanel(Object.assign({}, topCommon, {
  L: 1638.3, R: 1836.7, x: [940, 970], xMajor: ageTXII, xMinor: ageTXIIMinor, title: 'TXII', bottomTitle: true,
  axes: [
    {id: 'g', side: 'left', ticks: spelTicksB, p: [131.7, 265.4], dec: 1, color: GREEN, title: 'Spel. δ^{18}O (‰ V-PDB)', tx: 1572, ty: 192},
    {id: 'o', side: 'right', ticks: c374Ticks, p: [197.5, 328], dec: 0, color: ORANGE, title: '% C_{37:4}', tx: 1892, ty: 262},
    {id: 'b', side: 'left', ticks: plankTicksTXII, p: [322.3, 503], dec: 1, color: BLUE, title: 'Planktic δ^{18}O (‰)', tx: 1572, ty: 416},
    {id: 'k', side: 'right', ticks: benthTicksB, p: [475.3, 625.8], dec: 1, color: BLACK, title: 'Benthic δ^{18}O (‰)', tx: 1895, ty: 530}
  ],
  datasets: [tie(txiiTie), line(txiiSpel, 'g', GREEN), line(txiiC374, 'o', ORANGE), dots(txiiPlank, 'b', BLUE), dots(txiiBenth, 'k', BLACK)],
  bands: [{from: 957.7, to: 960.2, depth: 1, color: PINK}],
  notes: [{text: '960', at: 960.2, dx: 5, y: 127, align: 'left'}, {text: '3', at: 958.95, y: 613}]
}));

// row letters
const rowY = [190, 260, 396, 505, 755, 850];
rowLetters.forEach((t, i) => {
  const d = document.createElement('div');
  d.className = 'row';
  d.textContent = t;
  d.style.left = '27px';
  d.style.top = rowY[i] + 'px';
  wrap.appendChild(d);
});
</script>
</body>
</html>
